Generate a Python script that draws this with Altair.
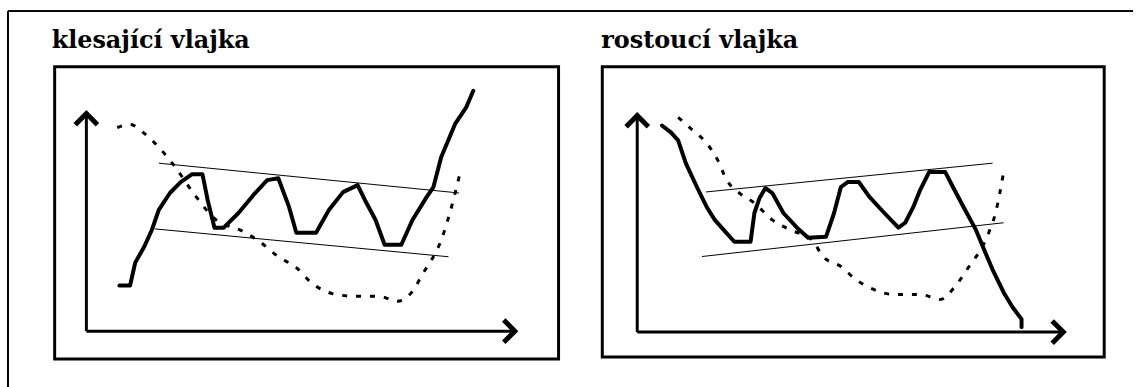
import altair as alt
import pandas as pd

panel_titles = ["klesající vlajka", "rostoucí vlajka"]

# ---------- klesající vlajka (falling flag, breaks upward) ----------
fall_t = [7.7, 10.2, 11.4, 13.5, 15.3, 16.9, 19.5, 22.0, 24.6, 27.1, 28.3, 29.9,
          32.0, 35.5, 39.0, 42.2, 44.8, 47.3, 49.0, 53.6, 56.6, 59.9, 63.3, 65.0,
          67.5, 69.6, 73.5, 76.1, 79.4, 81.0, 82.8, 86.1, 88.6, 90.3]
fall_p = [21.0, 21.0, 31.5, 38.8, 46.6, 55.7, 63.5, 68.5, 72.1, 72.1, 60.3, 47.5,
          47.5, 54.3, 62.6, 69.4, 70.3, 57.1, 45.2, 45.2, 55.7, 63.9, 67.1, 60.3,
          51.1, 39.7, 39.7, 51.1, 61.6, 66.2, 79.9, 95.4, 102.7, 110.5]
fall_ghost_t = [7.2, 10.2, 13.5, 16.9, 20.4, 25.3, 29.7, 36.7, 40.8, 44.8, 49.0,
                52.4, 58.2, 63.3, 68.4, 72.6, 75.9, 78.4, 83.1, 84.7, 87.2]
fall_ghost_p = [93.6, 95.0, 90.9, 84.5, 76.3, 62.6, 52.1, 45.7, 40.6, 34.2, 29.2,
                22.4, 16.9, 16.0, 16.0, 13.7, 17.8, 26.0, 43.4, 53.4, 72.6]
fall_upper_t = [16.9, 87.0]
fall_upper_p = [77.2, 63.5]
fall_lower_t = [16.0, 84.5]
fall_lower_p = [47.0, 34.2]

# ---------- rostoucí vlajka (rising flag, breaks downward) ----------
rise_t = [5.8, 7.9, 9.6, 11.4, 14.0, 16.3, 18.2, 20.7, 22.8, 26.6, 27.5, 28.7,
          30.1, 31.7, 34.3, 37.5, 40.1, 44.3, 46.2, 47.8, 49.4, 52.0, 54.5, 58.0,
          61.3, 62.9, 64.8, 66.4, 68.5, 72.3, 74.1, 76.7, 79.5, 81.4, 83.4, 86.0,
          88.1, 90.2, 90.2]
rise_p = [95.4, 92.2, 88.5, 78.0, 67.0, 57.8, 51.8, 46.3, 41.7, 41.7, 55.0, 61.9,
          66.5, 64.2, 55.0, 48.2, 43.6, 44.0, 55.0, 67.0, 69.3, 69.3, 62.4, 55.0,
          48.2, 50.5, 57.8, 65.6, 73.9, 73.9, 67.0, 57.3, 47.2, 38.1, 28.9, 18.3,
          11.5, 6.0, 2.3]
rise_ghost_t = [9.6, 12.6, 16.3, 18.9, 21.0, 24.0, 27.5, 31.7, 35.9, 41.0, 43.6,
                47.8, 51.3, 55.5, 60.1, 66.4, 71.1, 74.6, 77.4, 82.5, 84.1, 85.1, 86.0]
rise_ghost_p = [99.1, 94.0, 87.2, 79.4, 70.2, 64.2, 59.6, 51.8, 47.2, 42.7, 34.9,
                30.3, 24.3, 19.7, 17.4, 17.4, 15.1, 21.1, 28.9, 45.9, 55.0, 64.2, 73.9]
rise_upper_t = [16.1, 83.4]
rise_upper_p = [64.7, 78.0]
rise_lower_t = [15.2, 86.0]
rise_lower_p = [34.9, 50.5]

# sketch axes: origin to arrow tip
axis_len = 100

TITLE_FONT = "DejaVu Serif"


def seq(t, p):
    return pd.DataFrame({"t": t, "p": p, "i": range(len(t))})


def panel(title, dx, t, p, gt, gp, ut, up, lt, lp, xdom, ydom, w, h, frame=False):
    xs = alt.Scale(domain=xdom, nice=False, zero=False)
    ys = alt.Scale(domain=ydom, nice=False, zero=False)

    def enc(**kw):
        return dict(
            x=alt.X("t:Q", scale=xs, axis=None),
            y=alt.Y("p:Q", scale=ys, axis=None),
            **kw,
        )

    chan = pd.concat([
        seq(ut, up).assign(edge="upper"),
        seq(lt, lp).assign(edge="lower"),
    ])
    channel = alt.Chart(chan).mark_line(color="black", strokeWidth=1).encode(
        **enc(detail="edge:N", order="i:Q"))

    ghost = alt.Chart(seq(gt, gp)).mark_line(
        color="black", strokeWidth=3, strokeDash=[5, 9], interpolate="monotone"
    ).encode(**enc(order="i:Q"))

    price = alt.Chart(seq(t, p)).mark_line(
        color="black", strokeWidth=4, strokeJoin="round", strokeCap="round"
    ).encode(**enc(order="i:Q"))

    axes_df = pd.DataFrame({
        "t": [0, axis_len, 0, 0],
        "p": [0, 0, 0, axis_len],
        "ax": ["time", "time", "price", "price"],
        "i": [0, 1, 0, 1],
    })
    axes = alt.Chart(axes_df).mark_line(color="black", strokeWidth=3).encode(
        **enc(detail="ax:N", order="i:Q"))

    heads_df = pd.DataFrame({"t": [axis_len, 0], "p": [0, axis_len], "rot": [0, 270]})
    heads = alt.Chart(heads_df).mark_point(
        shape="M-1,-1L0,0L-1,1", size=500, filled=False, color="black",
        strokeWidth=5, opacity=1, strokeJoin="miter"
    ).encode(**enc(angle=alt.Angle("rot:Q", scale=None)))

    label = alt.Chart(pd.DataFrame({"name": [title]})).mark_text(
        font=TITLE_FONT, fontSize=24, fontWeight="bold", color="black",
        align="left", baseline="alphabetic"
    ).encode(text="name:N", x=alt.value(dx), y=alt.value(-19))

    layers = [channel, ghost, price, axes, heads, label]
    if frame:
        # outer page frame (left and top edges), reaching the page edges
        layers.append(alt.Chart(axes_df).mark_rule(color="black", strokeWidth=1.5).encode(
            x=alt.value(-47), y=alt.value(-56), y2=alt.value(325)))
        layers.append(alt.Chart(axes_df).mark_rule(color="black", strokeWidth=1.5).encode(
            x=alt.value(-47), x2=alt.value(1085), y=alt.value(-56)))

    return alt.layer(*layers).properties(width=w, height=h)


left = panel(panel_titles[0], -3, fall_t, fall_p, fall_ghost_t, fall_ghost_p,
             fall_upper_t, fall_upper_p, fall_lower_t, fall_lower_p,
             [-7.4, 110.2], [-12.8, 121.5], 507, 294, frame=True)
right = panel(panel_titles[1], -1, rise_t, rise_p, rise_ghost_t, rise_ghost_p,
              rise_upper_t, rise_upper_p, rise_lower_t, rise_lower_p,
              [-8.2, 109.6], [-11.5, 122.5], 505, 292)

chart = alt.hconcat(left, right, spacing=44, bounds="flush").properties(
    padding={"left": 5, "top": 7, "right": 0, "bottom": 0},
    background="white",
).configure_view(stroke="black", strokeWidth=3)

chart.save("out.html", embed_options={"renderer": "svg", "actions": False})
